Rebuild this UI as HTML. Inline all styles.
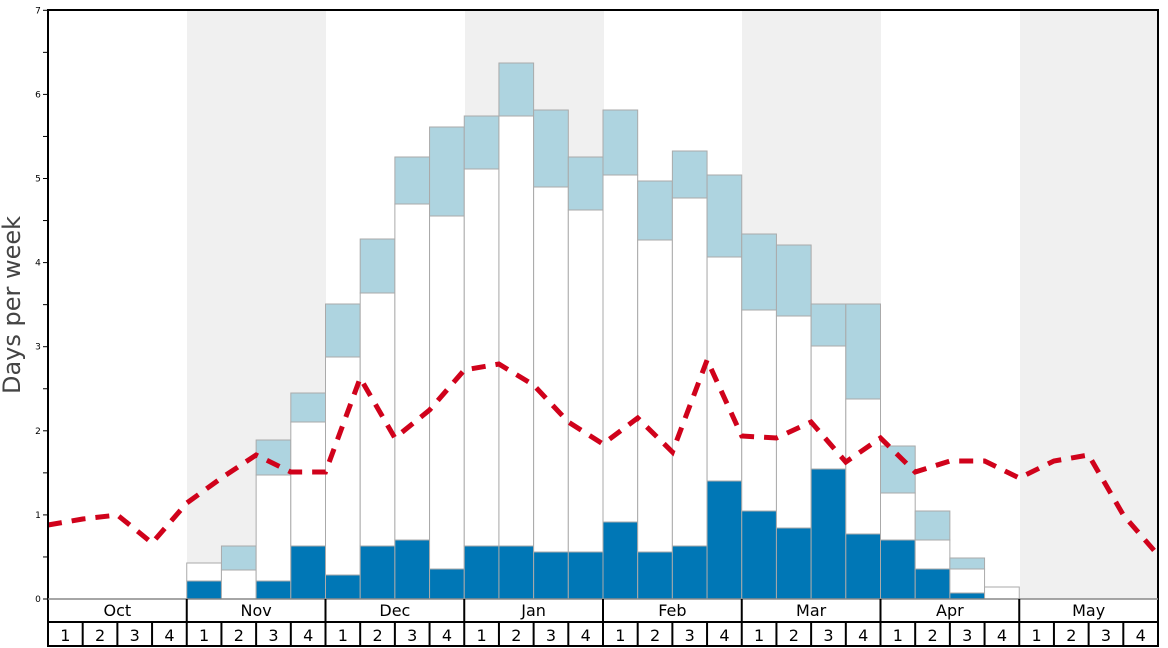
<!DOCTYPE html><html><head><meta charset="utf-8"><style>body{margin:0;background:#fff}svg{display:block;font-family:"DejaVu Sans","Liberation Sans",sans-serif}</style></head><body>
<svg width="1168" height="648" viewBox="0 0 1168 648" xmlns="http://www.w3.org/2000/svg">
<rect x="187" y="10" width="139" height="589" fill="#f0f0f0"/>
<rect x="465" y="10" width="139" height="589" fill="#f0f0f0"/>
<rect x="742" y="10" width="139" height="589" fill="#f0f0f0"/>
<rect x="1020" y="10" width="138" height="589" fill="#f0f0f0"/>
<g id="bars" stroke="#aaa" stroke-width="1"></g>
<polyline id="line" fill="none" stroke="#d0021b" stroke-width="5" stroke-dasharray="14,10"/>
<g id="axis" font-size="15" fill="#000"></g>
<text transform="translate(20,305) rotate(-90)" font-size="24" fill="#444" text-anchor="middle">Days per week</text>
</svg>
<script>
const ns="http://www.w3.org/2000/svg";
function el(p,t,a,txt){const e=document.createElementNS(ns,t);for(const k in a)e.setAttribute(k,a[k]);if(txt!==undefined)e.textContent=txt;p.appendChild(e);return e;}
const W=(1158-48)/32, X=i=>48+i*W;
const bars={4:[581,563,563],5:[599,570,546],6:[581,475,440],7:[546,422,393],8:[575,357,304],9:[546,293,239],10:[540,204,157],11:[569,216,127],12:[546,169,116],13:[546,116,63],14:[552,187,110],15:[552,210,157],16:[522,175,110],17:[552,240,181],18:[546,198,151],19:[481,257,175],20:[511,310,234],21:[528,316,245],22:[469,346,304],23:[534,399,304],24:[540,493,446],25:[569,540,511],26:[593,569,558],27:[599,587,587]};
const g=document.getElementById('bars');
for(const k in bars){const i=+k,[d,w,l]=bars[k],x=X(i);
 if(l<w)el(g,'rect',{x:x,y:l,width:W,height:w-l,fill:'#aed4e0'});
 el(g,'rect',{x:x,y:w,width:W,height:d-w,fill:'#fff'});
 if(d<599)el(g,'rect',{x:x,y:d,width:W,height:599-d,fill:'#0077b6'});}
const ly=[525,519,515,543,503,478,455,472,472,378,438,410,370,364,385,422,444,418,452,360,436,438,422,462,438,472,461,461,478,461,455,515,555];
document.getElementById('line').setAttribute('points',ly.map((y,i)=>X(i).toFixed(1)+','+y).join(' '));
const a=document.getElementById('axis');
el(a,'rect',{x:48,y:10,width:1110,height:636,fill:'none',stroke:'#000','stroke-width':2});
el(a,'line',{x1:48,y1:599,x2:1158,y2:599,stroke:'#888','stroke-width':1.5});
el(a,'line',{x1:48,y1:622,x2:1158,y2:622,stroke:'#000','stroke-width':2});
for(let v=0;v<=14;v++){const y=599-v*42.05;el(a,'line',{x1:43,y1:y,x2:48,y2:y,stroke:'#000','stroke-width':1});
 if(v%2==0)el(a,'text',{x:38,y:y+3,'font-size':9,'text-anchor':'middle'},v/2);}
const m=['Oct','Nov','Dec','Jan','Feb','Mar','Apr','May'];
for(let j=0;j<8;j++){const x=X(j*4);if(j>0)el(a,'line',{x1:x,y1:599,x2:x,y2:646,stroke:'#000','stroke-width':2});
 el(a,'text',{x:x+2*W,y:616,'text-anchor':'middle','font-size':16},m[j]);
 for(let k=0;k<4;k++){const xx=X(j*4+k);if(k>0)el(a,'line',{x1:xx,y1:622,x2:xx,y2:646,stroke:'#000','stroke-width':2});
  el(a,'text',{x:xx+W/2,y:641,'text-anchor':'middle','font-size':16},k+1);}}
</script>
</body></html>
